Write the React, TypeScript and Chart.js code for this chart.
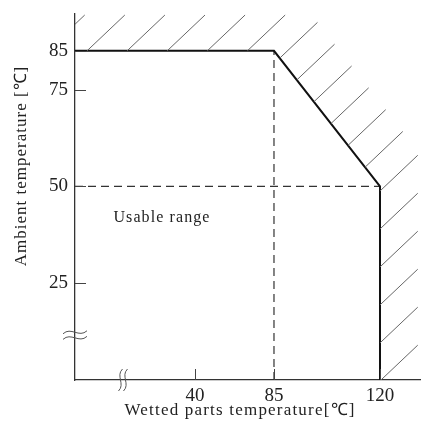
import React, { useEffect, useRef } from "react";
import { Chart, registerables, LinearScale } from "chart.js";

// ---------------- data ----------------
const X_TICKS = [40, 85, 120];
const Y_TICKS = [25, 50, 75, 85];
const X_MIN = 0;
const X_MAX = 133.5;
const Y_MIN = 0;
const Y_MAX = 94.5;

// boundary of the usable range (wetted parts temp, ambient temp)
const BOUNDARY_X = [0, 85, 120, 120];
const BOUNDARY_Y = [85, 85, 50, 0];

// dashed guide lines
const GUIDE_V_X = [85, 85];
const GUIDE_V_Y = [0, 85];
const GUIDE_H_X = [0, 120];
const GUIDE_H_Y = [50, 50];

// broken x axis: value knots and their relative positions along the axis
const BREAK_VALUES = [0, 40, 85, 120, 133.5];
const BREAK_POS = [0, 0.3468, 0.5751, 0.8815, 1];
const X_BREAK_AT = 16;
const Y_BREAK_AT = 11.6;

const REGION_LABEL = "Usable range";
const REGION_LABEL_AT = { x: 29, y: 41.8 };
const X_TITLE = "Wetted parts temperature[℃]";
const Y_TITLE = "Ambient temperature [℃]";

// ---------------- broken scale ----------------
function valueToFrac(v: number): number {
  for (let i = 0; i < BREAK_VALUES.length - 1; i++) {
    const a = BREAK_VALUES[i], b = BREAK_VALUES[i + 1];
    if (v <= b || i === BREAK_VALUES.length - 2) {
      return BREAK_POS[i] + ((v - a) / (b - a)) * (BREAK_POS[i + 1] - BREAK_POS[i]);
    }
  }
  return 1;
}
function fracToValue(f: number): number {
  for (let i = 0; i < BREAK_POS.length - 1; i++) {
    const a = BREAK_POS[i], b = BREAK_POS[i + 1];
    if (f <= b || i === BREAK_POS.length - 2) {
      return BREAK_VALUES[i] + ((f - a) / (b - a)) * (BREAK_VALUES[i + 1] - BREAK_VALUES[i]);
    }
  }
  return BREAK_VALUES[BREAK_VALUES.length - 1];
}

class BrokenLinearScale extends LinearScale {
  static id = "brokenLinear";
  static defaults = LinearScale.defaults;
  getPixelForValue(value: any) {
    if (value === null || value === undefined) return NaN;
    return this.getPixelForDecimal(valueToFrac(value));
  }
  getValueForPixel(pixel: number) {
    return fracToValue(this.getDecimalForPixel(pixel));
  }
}

Chart.register(...registerables, BrokenLinearScale as any);

const SERIF = '"Liberation Serif", "Times New Roman", serif';
const INK = "#222";

const decorPlugin = {
  id: "decor",
  afterDatasetsDraw(chart: any) {
    const { ctx, chartArea, scales } = chart;
    const xs = scales.x, ys = scales.y;
    ctx.save();

    // ---- hatching outside the boundary ----
    const pts = BOUNDARY_X.map((x, i) => ({ x: xs.getPixelForValue(x), y: ys.getPixelForValue(BOUNDARY_Y[i]) }));
    const last = pts[pts.length - 1];
    const ext = [{ x: pts[0].x - 300, y: pts[0].y }, ...pts, { x: last.x, y: last.y + 300 }];
    const dl = Math.hypot(38, 36);
    const d = { x: 38 / dl, y: -36 / dl };
    const n = { x: -d.y, y: d.x };
    const cOf = (p: any) => n.x * p.x + n.y * p.y;
    const spacing = 27.57;
    const c0 = cOf(pts[0]) + 8.3;
    const L = 52;
    ctx.beginPath();
    ctx.rect(chartArea.left, 0, chart.width - chartArea.left, chartArea.bottom);
    ctx.clip();
    ctx.strokeStyle = "#666";
    ctx.lineWidth = 1;
    ctx.beginPath();
    for (let i = 0; i < ext.length - 1; i++) {
      const a = ext[i], b = ext[i + 1];
      const ca = cOf(a), cb = cOf(b);
      const kStart = Math.ceil((ca - c0) / spacing);
      for (let k = kStart; c0 + k * spacing < cb; k++) {
        const c = c0 + k * spacing;
        const t = (c - ca) / (cb - ca);
        const sx = a.x + t * (b.x - a.x), sy = a.y + t * (b.y - a.y);
        ctx.moveTo(sx, sy);
        ctx.lineTo(sx + d.x * L, sy + d.y * L);
      }
    }
    ctx.stroke();
    ctx.restore();

    ctx.save();
    // ---- inward tick marks ----
    ctx.strokeStyle = "#444";
    ctx.lineWidth = 1;
    ctx.beginPath();
    Y_TICKS.forEach((v) => {
      const py = Math.round(ys.getPixelForValue(v)) + 0.5;
      ctx.moveTo(chartArea.left, py);
      ctx.lineTo(chartArea.left + 11, py);
    });
    X_TICKS.forEach((v) => {
      const px = Math.round(xs.getPixelForValue(v)) + 0.5;
      ctx.moveTo(px, chartArea.bottom);
      ctx.lineTo(px, chartArea.bottom - 11);
    });
    ctx.stroke();

    // ---- axis break marks ----
    ctx.strokeStyle = "#555";
    ctx.lineWidth = 1;
    const bx = xs.getPixelForValue(X_BREAK_AT);
    const by0 = chartArea.bottom;
    [-2.5, 2.5].forEach((off) => {
      const cx = bx + off;
      ctx.beginPath();
      ctx.moveTo(cx - 2, by0 + 11);
      ctx.bezierCurveTo(cx + 5, by0 + 4, cx - 5, by0 - 4, cx + 2, by0 - 11);
      ctx.stroke();
    });
    const byy = ys.getPixelForValue(Y_BREAK_AT);
    const ax = chartArea.left;
    [-2.8, 2.8].forEach((off) => {
      const cy = byy + off;
      ctx.beginPath();
      ctx.moveTo(ax - 12, cy + 1.5);
      ctx.bezierCurveTo(ax - 4, cy - 6, ax + 4, cy + 6, ax + 12, cy - 1.5);
      ctx.stroke();
    });

    // ---- texts ----
    ctx.fillStyle = INK;
    ctx.textAlign = "center";
    ctx.textBaseline = "middle";
    ctx.font = `16px ${SERIF}`;
    (ctx as any).letterSpacing = "1.1px";
    ctx.fillText(REGION_LABEL, xs.getPixelForValue(REGION_LABEL_AT.x), ys.getPixelForValue(REGION_LABEL_AT.y));

    ctx.font = `17px ${SERIF}`;
    (ctx as any).letterSpacing = "1.2px";
    ctx.fillText(X_TITLE, 240, 411);

    ctx.translate(22, 166);
    ctx.rotate(-Math.PI / 2);
    (ctx as any).letterSpacing = "1px";
    ctx.fillText(Y_TITLE, 0, 0);
    ctx.restore();
  },
};

export default function App() {
  const ref = useRef<HTMLCanvasElement | null>(null);
  useEffect(() => {
    document.body.style.margin = "0";
    const canvas = ref.current!;
    const pts = (xs: number[], ys: number[]) => xs.map((x, i) => ({ x, y: ys[i] }));
    const chart = new Chart(canvas, {
      type: "line",
      data: {
        datasets: [
          {
            data: pts(BOUNDARY_X, BOUNDARY_Y),
            borderColor: "#111",
            borderWidth: 2,
            pointRadius: 0,
            fill: false,
            tension: 0,
            order: 0,
          },
          {
            data: pts(GUIDE_V_X, GUIDE_V_Y),
            borderColor: "#333",
            borderWidth: 1.2,
            borderDash: [8, 5],
            pointRadius: 0,
            fill: false,
            order: 1,
          },
          {
            data: pts(GUIDE_H_X, GUIDE_H_Y),
            borderColor: "#333",
            borderWidth: 1.2,
            borderDash: [8, 5],
            pointRadius: 0,
            fill: false,
            order: 2,
          },
        ],
      },
      options: {
        responsive: false,
        animation: false,
        devicePixelRatio: 1,
        layout: { padding: { top: 14, right: 0, left: 0, bottom: 0 } },
        plugins: { legend: { display: false }, tooltip: { enabled: false } },
        scales: {
          x: {
            type: "brokenLinear" as any,
            position: "bottom",
            min: X_MIN,
            max: X_MAX,
            grid: { display: false, drawTicks: false },
            border: { display: true, color: "#333", width: 1.3 },
            afterBuildTicks: (s: any) => {
              s.ticks = X_TICKS.map((v) => ({ value: v }));
            },
            afterFit: (s: any) => {
              s.height = 48;
              s.paddingLeft = 0;
              s.paddingRight = 0;
            },
            ticks: {
              autoSkip: false,
              maxRotation: 0,
              padding: 5,
              color: INK,
              font: { family: SERIF, size: 19 },
              callback: (v: any) => String(v),
            },
          },
          y: {
            type: "linear",
            min: Y_MIN,
            max: Y_MAX,
            grid: { display: false, drawTicks: false },
            border: { display: true, color: "#333", width: 1.3 },
            afterBuildTicks: (s: any) => {
              s.ticks = Y_TICKS.map((v) => ({ value: v }));
            },
            afterFit: (s: any) => {
              s.width = 75;
              s.paddingTop = 0;
              s.paddingBottom = 0;
            },
            ticks: {
              autoSkip: false,
              padding: 7,
              color: INK,
              font: { family: SERIF, size: 19 },
              callback: (v: any) => String(v),
            },
          },
        },
      },
      plugins: [decorPlugin],
    } as any);
    return () => chart.destroy();
  }, []);
  return <canvas ref={ref} width={421} height={428} style={{ display: "block" }} />;
}
